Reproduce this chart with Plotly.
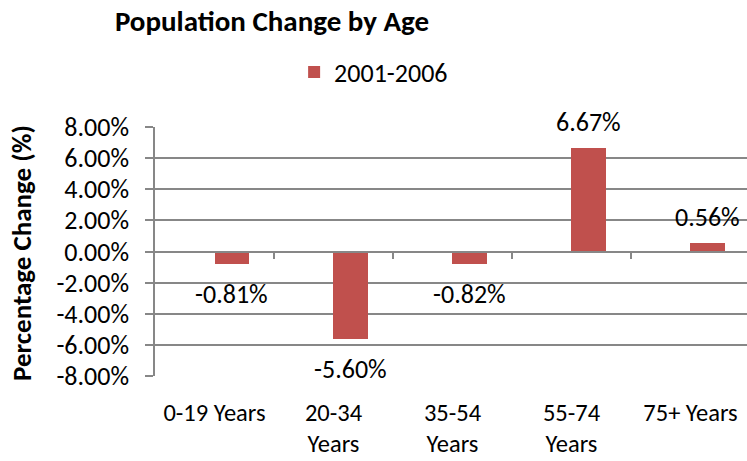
import plotly.graph_objects as go

# Population change by age group, 2001-2006 (percent)
categories = ["0-19 Years", "20-34<br>Years", "35-54<br>Years", "55-74<br>Years", "75+ Years"]
series_name = "2001-2006"
values = [-0.81, -5.60, -0.82, 6.67, 0.56]
y_ticks = [8, 6, 4, 2, 0, -2, -4, -6, -8]
y_tick_labels = [f"{v:.2f}%" for v in y_ticks]

FONT = "Calibri, Carlito, Lato, sans-serif"
BAR = "#C0504D"
GRID = "#878787"
TXT = "#000000"
FS = 26

n = len(categories)
xs = list(range(n))

fig = go.Figure()
fig.add_trace(go.Bar(
    x=xs, y=values, name=series_name,
    marker=dict(color=BAR, line=dict(width=0)),
    width=0.286, offset=0,
    hoverinfo="skip",
))

# data labels, kept clear of the bar ends
for x, v in zip(xs, values):
    fig.add_annotation(
        x=x + 0.143, y=v, xref="x", yref="y",
        text=f"{v:.2f}%", showarrow=False,
        font=dict(family=FONT, size=FS, color=TXT),
        yshift=(26 if v >= 0 else -30),
    )

x_range = [-0.5, n - 0.5 - 0.025]

fig.update_layout(
    width=747, height=461,
    margin=dict(l=155, r=0, t=127, b=85, autoexpand=False),
    paper_bgcolor="white", plot_bgcolor="white",
    font=dict(family=FONT, size=FS, color=TXT),
    title=dict(text="<b>Population Change by Age</b>", x=272 / 747, xanchor="center",
               y=1 - 21 / 461, yanchor="middle",
               font=dict(family=FONT, size=29, color=TXT)),
    showlegend=True,
    legend=dict(orientation="h", x=0.235, xanchor="left", y=1.22, yanchor="middle",
                font=dict(family=FONT, size=FS, color=TXT), bgcolor="rgba(0,0,0,0)"),
    bargap=0,
    xaxis=dict(
        range=x_range, tickmode="array", tickvals=xs, ticktext=categories,
        showgrid=False, zeroline=False, showline=False, ticks="", automargin=False,
        tickfont=dict(family=FONT, size=24.5, color=TXT), ticklabelstandoff=19,
    ),
    # category axis crossing at zero, tick marks on the boundaries
    xaxis2=dict(
        overlaying="x", matches="x", anchor="free", position=0.5,
        range=x_range, tickmode="array", tickvals=[i + 0.5 for i in range(n - 1)],
        showticklabels=False, showgrid=False, zeroline=False, automargin=False,
        showline=True, linecolor=GRID, linewidth=1.5,
        ticks="outside", ticklen=7, tickcolor=GRID, tickwidth=1.5,
    ),
    yaxis=dict(
        range=[-8, 8], tickmode="array", tickvals=y_ticks, ticktext=y_tick_labels,
        showgrid=True, gridcolor=GRID, gridwidth=1.5, zeroline=False, automargin=False,
        showline=True, linecolor=GRID, linewidth=1.5,
        ticks="outside", ticklen=8, tickcolor=GRID, tickwidth=1.5,
        tickfont=dict(family=FONT, size=FS, color=TXT), ticklabelstandoff=11,
    ),
)

# invisible helper so the crossing axis is drawn
fig.add_trace(go.Scatter(x=[xs[0]], y=[0], xaxis="x2", mode="markers",
                         marker=dict(opacity=0), showlegend=False, hoverinfo="skip"))

fig.add_annotation(
    text="<b>Percentage Change (%)</b>", textangle=-90, showarrow=False,
    xref="paper", yref="paper", x=(22 - 155) / 592, y=0.494,
    xanchor="center", yanchor="middle",
    font=dict(family=FONT, size=27, color=TXT),
)

fig.write_html("out.html")
